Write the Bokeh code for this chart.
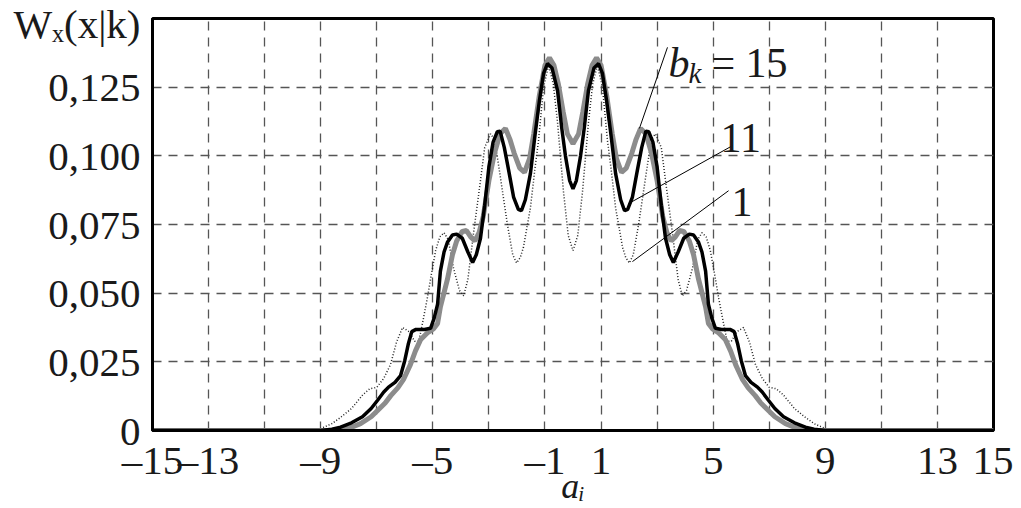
from bokeh.plotting import figure
from bokeh.models import Range1d, FixedTicker, Label
from bokeh.embed import file_html
from bokeh.resources import INLINE

# ---- data ----
# b_k = 15 (black, thick)
x_b15 = [-15, -9.0, -8.6, -8.29, -7.9, -7.51, -7.2, -6.97, -6.75, -6.58, -6.35, -6.15, -6.0, -5.87, -5.75,
         -5.6, -5.3, -5.08, -4.95, -4.83, -4.73, -4.6, -4.48, -4.3, -4.15, -3.95, -3.75, -3.58, -3.45, -3.3,
         -3.15, -3.0, -2.85, -2.7, -2.6, -2.45, -2.3, -2.12, -1.95, -1.84, -1.7, -1.52, -1.35, -1.2, -1.05,
         -0.91, -0.75, -0.55, -0.4, -0.27, -0.12, 0,
         0.12, 0.27, 0.4, 0.55, 0.75, 0.91, 1.05, 1.2, 1.35, 1.52, 1.7, 1.84, 1.95, 2.12, 2.3, 2.45, 2.6, 2.7,
         2.85, 3.0, 3.15, 3.3, 3.45, 3.58, 3.75, 3.95, 4.15, 4.3, 4.48, 4.6, 4.73, 4.83, 4.95, 5.08, 5.3, 5.6,
         5.75, 5.87, 6.0, 6.15, 6.35, 6.58, 6.75, 6.97, 7.2, 7.51, 7.9, 8.29, 8.6, 9.0, 15]
y_b15 = [0, 0, 0.0005, 0.0012, 0.0028, 0.0050, 0.0080, 0.0110, 0.0140, 0.0158, 0.0175, 0.0200, 0.0255, 0.0317, 0.0360,
         0.0368, 0.0368, 0.0372, 0.0410, 0.0460, 0.0580, 0.0650, 0.0685, 0.0712, 0.0715, 0.0700, 0.0650, 0.0612, 0.0640, 0.0700,
         0.0820, 0.0960, 0.1050, 0.1088, 0.1090, 0.1030, 0.0950, 0.0850, 0.0805, 0.0800, 0.0840, 0.0935, 0.1080, 0.1200, 0.1300,
         0.1336, 0.1320, 0.1237, 0.1100, 0.1000, 0.0910, 0.0880,
         0.0910, 0.1000, 0.1100, 0.1237, 0.1320, 0.1336, 0.1300, 0.1200, 0.1080, 0.0935, 0.0840, 0.0800, 0.0805, 0.0850, 0.0950, 0.1030, 0.1090, 0.1088,
         0.1050, 0.0960, 0.0820, 0.0700, 0.0640, 0.0612, 0.0650, 0.0700, 0.0715, 0.0712, 0.0685, 0.0650, 0.0580, 0.0460, 0.0410, 0.0372, 0.0368, 0.0368,
         0.0360, 0.0317, 0.0255, 0.0200, 0.0175, 0.0158, 0.0140, 0.0110, 0.0080, 0.0050, 0.0028, 0.0012, 0.0005, 0, 0]

# b_k = 11 (gray, thick)
x_b11 = [-15, -8.5, -8.0, -7.58, -7.2, -6.97, -6.7, -6.5, -6.25, -6.05, -5.8, -5.62, -5.44, -5.2, -4.98, -4.83,
         -4.73, -4.48, -4.3, -4.15, -3.95, -3.8, -3.65, -3.5, -3.35, -3.2, -3.0, -2.8, -2.6, -2.41, -2.25, -2.1,
         -1.9, -1.73, -1.55, -1.4, -1.2, -1.0, -0.84, -0.68, -0.52, -0.35, -0.2, 0,
         0.2, 0.35, 0.52, 0.68, 0.84, 1.0, 1.2, 1.4, 1.55, 1.73, 1.9, 2.1, 2.25, 2.41, 2.6, 2.8, 3.0, 3.2, 3.35,
         3.5, 3.65, 3.8, 3.95, 4.15, 4.3, 4.48, 4.73, 4.83, 4.98, 5.2, 5.44, 5.62, 5.8, 6.05, 6.25, 6.5, 6.7,
         6.97, 7.2, 7.58, 8.0, 8.5, 15]
y_b11 = [0, 0, 0.0008, 0.0025, 0.0050, 0.0073, 0.0100, 0.0127, 0.0155, 0.0185, 0.0240, 0.0290, 0.0330, 0.0355, 0.0370, 0.0390,
         0.0450, 0.0550, 0.0640, 0.0690, 0.0725, 0.0728, 0.0705, 0.0690, 0.0720, 0.0780, 0.0910, 0.1010, 0.1080, 0.1100, 0.1060, 0.1010,
         0.0955, 0.0940, 0.0990, 0.1080, 0.1220, 0.1330, 0.1357, 0.1330, 0.1260, 0.1160, 0.1080, 0.1044,
         0.1080, 0.1160, 0.1260, 0.1330, 0.1357, 0.1330, 0.1220, 0.1080, 0.0990, 0.0940, 0.0955, 0.1010, 0.1060, 0.1100, 0.1080, 0.1010, 0.0910, 0.0780, 0.0720,
         0.0690, 0.0705, 0.0728, 0.0725, 0.0690, 0.0640, 0.0550, 0.0450, 0.0390, 0.0370, 0.0355, 0.0330, 0.0290, 0.0240, 0.0185, 0.0155, 0.0127, 0.0100,
         0.0073, 0.0050, 0.0025, 0.0008, 0, 0]

# b_k = 1 (dotted, thin)
x_b1 = [-15, -9.3, -9.0, -8.6, -8.3, -7.9, -7.5, -7.25, -7.0, -6.75, -6.51, -6.3, -6.08, -5.85, -5.65, -5.5,
        -5.35, -5.2, -5.05, -4.9, -4.75, -4.6, -4.45, -4.26, -4.05, -3.9, -3.75, -3.55, -3.3, -3.15, -2.94, -2.8,
        -2.66, -2.5, -2.34, -2.15, -2.01, -1.88, -1.77, -1.52, -1.35, -1.23, -1.05, -0.87, -0.7, -0.55, -0.34, -0.17, 0,
        0.17, 0.34, 0.55, 0.7, 0.87, 1.05, 1.23, 1.35, 1.52, 1.77, 1.88, 2.01, 2.15, 2.34, 2.5, 2.66, 2.8, 2.94,
        3.15, 3.3, 3.55, 3.75, 3.9, 4.05, 4.26, 4.45, 4.6, 4.75, 4.9, 5.05, 5.2, 5.35, 5.5, 5.65, 5.85, 6.08, 6.3,
        6.51, 6.75, 7.0, 7.25, 7.5, 7.9, 8.3, 8.6, 9.0, 9.3, 15]
y_b1 = [0, 0, 0.0007, 0.0025, 0.0047, 0.0080, 0.0130, 0.0152, 0.0157, 0.0190, 0.0240, 0.0320, 0.0375, 0.0360, 0.0325, 0.0325,
        0.0400, 0.0480, 0.0570, 0.0655, 0.0705, 0.0720, 0.0695, 0.0590, 0.0510, 0.0490, 0.0550, 0.0717, 0.0910, 0.1030, 0.1080, 0.1060,
        0.0970, 0.0860, 0.0750, 0.0640, 0.0610, 0.0630, 0.0666, 0.0810, 0.0960, 0.1055, 0.1250, 0.1330, 0.1260, 0.1120, 0.0870, 0.0710, 0.0655,
        0.0710, 0.0870, 0.1120, 0.1260, 0.1330, 0.1250, 0.1055, 0.0960, 0.0810, 0.0666, 0.0630, 0.0610, 0.0640, 0.0750, 0.0860, 0.0970, 0.1060, 0.1080,
        0.1030, 0.0910, 0.0717, 0.0550, 0.0490, 0.0510, 0.0590, 0.0695, 0.0720, 0.0705, 0.0655, 0.0570, 0.0480, 0.0400, 0.0325, 0.0325, 0.0360, 0.0375, 0.0320,
        0.0240, 0.0190, 0.0157, 0.0152, 0.0130, 0.0080, 0.0047, 0.0025, 0.0007, 0, 0]

x_tick_values = [-15, -13, -9, -5, -1, 1, 5, 9, 13, 15]
x_tick_labels = ["\u201315", "\u201313", "\u20139", "\u20135", "\u20131", "1", "5", "9", "13", "15"]
x_grid_values = [-13, -11, -9, -7, -5, -3, -1, 1, 3, 5, 7, 9, 11, 13]
y_tick_values = [0, 0.025, 0.05, 0.075, 0.1, 0.125]
y_tick_labels = ["0", "0,025", "0,050", "0,075", "0,100", "0,125"]
y_title = "W\u2093(x|k)"
y_title_at = 0.1479          # the title sits level with the top of the axis
x_title = "a\u1d62"

# leader lines for the curve labels (label end -> curve end), data units
leader_15 = ([3.37, 2.37], [0.1395, 0.1100])
leader_11 = ([5.69, 1.98], [0.1037, 0.0826])
leader_1 = ([5.55, 2.12], [0.0873, 0.0615])

FONT = "Liberation Serif"

p = figure(frame_width=841, frame_height=412,
           x_range=Range1d(-15, 15), y_range=Range1d(0, 0.15),
           output_backend="svg", toolbar_location=None,
           min_border_left=152, min_border_right=20, min_border_top=18, min_border_bottom=40)
p.background_fill_color = "white"
p.border_fill_color = "white"
p.outline_line_color = "black"
p.outline_line_width = 3

p.xaxis.ticker = FixedTicker(ticks=x_tick_values)
p.xaxis.major_label_overrides = {v: s for v, s in zip(x_tick_values, x_tick_labels)}
p.yaxis.ticker = FixedTicker(ticks=y_tick_values + [y_title_at])
ov = {v: s for v, s in zip(y_tick_values, y_tick_labels)}
ov[y_title_at] = y_title
p.yaxis.major_label_overrides = ov
for ax in (p.xaxis, p.yaxis):
    ax.major_tick_line_color = None
    ax.minor_tick_line_color = None
    ax.major_tick_out = 0
    ax.major_tick_in = 0
    ax.minor_tick_out = 0
    ax.axis_line_color = "black"
    ax.axis_line_width = 3
    ax.major_label_text_font = FONT
    ax.major_label_text_font_size = "41px"
    ax.major_label_text_color = "#1a1a1a"
p.xaxis.major_label_standoff = 6
p.yaxis.major_label_standoff = 12

p.xaxis.axis_label = x_title
p.xaxis.axis_label_text_font = FONT
p.xaxis.axis_label_text_font_style = "italic"
p.xaxis.axis_label_text_font_size = "36px"
p.xaxis.axis_label_text_color = "#1a1a1a"
p.xaxis.axis_label_standoff = -20

p.xgrid.ticker = FixedTicker(ticks=x_grid_values)
p.ygrid.ticker = FixedTicker(ticks=y_tick_values[1:])
for g in (p.xgrid, p.ygrid):
    g.grid_line_color = "#555555"
    g.grid_line_width = 1.3
    g.grid_line_dash = "9 7"

p.line(x_b1, y_b1, line_color="#222222", line_width=1.5, line_dash="1 2")
p.line(x_b11, y_b11, line_color="#8c8c8c", line_width=5)
p.line(x_b15, y_b15, line_color="black", line_width=3.5)

for lx, ly in (leader_15, leader_11, leader_1):
    p.line(lx, ly, line_color="black", line_width=1)


def lab(text, sx, sy, size, italic=False):
    p.add_layout(Label(x=sx, y=sy, x_units="screen", y_units="screen", text=text,
                       text_font=FONT, text_font_size=size,
                       text_font_style="italic" if italic else "normal",
                       text_color="#1a1a1a", text_baseline="alphabetic", text_align="left"))


# curve labels
lab("b", 516, 368, "42px", True)
lab("k", 536, 358, "29px", True)
lab("=", 559, 368, "42px")
lab("15", 593, 368, "42px")
lab("11", 568, 293, "42px")
lab("1", 579, 229, "42px")

open("out.html", "w").write(file_html(p, INLINE))
